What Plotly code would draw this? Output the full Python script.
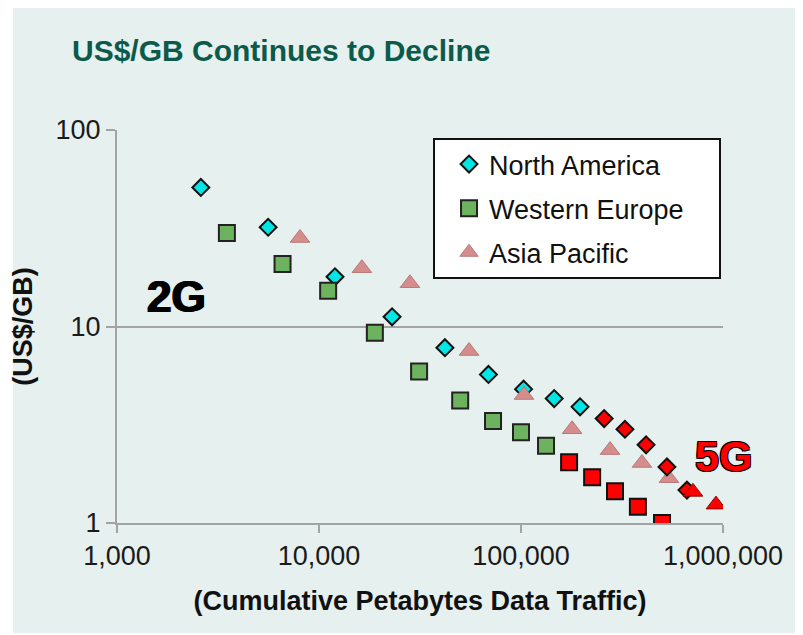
import plotly.graph_objects as go

# cumulative petabytes (x) vs US$/GB (y)
na_x = [2600, 5600, 12000, 23000, 42000, 69000, 103000, 146000, 196000]
na_y = [51, 32, 17.9, 11.2, 7.8, 5.7, 4.8, 4.3, 3.9]
na_5g_x = [258000, 327000, 416000, 528000, 663000]
na_5g_y = [3.4, 3.0, 2.5, 1.93, 1.47]

we_x = [3500, 6600, 11100, 18900, 31300, 50000, 72700, 100000, 133000]
we_y = [29.9, 20.8, 15.2, 9.3, 5.9, 4.2, 3.3, 2.9, 2.47]
we_5g_x = [173000, 225000, 292000, 379000, 499000]
we_5g_y = [2.04, 1.71, 1.45, 1.21, 1.0]

ap_x = [8050, 16300, 28200, 55300, 103500, 179000, 276000, 397000, 540000]
ap_y = [28.2, 19.8, 16.6, 7.5, 4.48, 3.0, 2.35, 2.02, 1.69]
ap_5g_x = [710000, 923000]
ap_5g_y = [1.44, 1.24]

x_ticks = [1000, 10000, 100000, 1000000]
x_tick_labels = ["1,000", "10,000", "100,000", "1,000,000"]
y_ticks = [1, 10, 100]
y_tick_labels = ["1", "10", "100"]

FONT = "Liberation Sans, Arial, sans-serif"
BG = "#e6f0ee"
GRID = "#a3a3a3"
outline = "-1px -1px 0 #000, 1px -1px 0 #000, -1px 1px 0 #000, 1px 1px 0 #000"
pad = "\u00a0" * 4  # widens the legend box a little, like the original

fig = go.Figure()

# regular series (shown in legend)
fig.add_trace(go.Scatter(
    x=na_x, y=na_y, mode="markers", name="North America", legendgroup="na",
    marker=dict(symbol="diamond", size=13, color="#00e6e6", line=dict(color="#111", width=2)),
))
fig.add_trace(go.Scatter(
    x=we_x, y=we_y, mode="markers", name="Western Europe" + pad, legendgroup="we",
    marker=dict(symbol="square", size=16, color="#6db35f", line=dict(color="#222", width=2)),
))
fig.add_trace(go.Scatter(
    x=ap_x, y=ap_y, mode="markers", name="Asia Pacific", legendgroup="ap",
    marker=dict(symbol="triangle-up", size=17, color="#d48c8c", line=dict(color="#b87a7a", width=1)),
))

# 5G portions in red
fig.add_trace(go.Scatter(
    x=na_5g_x, y=na_5g_y, mode="markers", showlegend=False,
    marker=dict(symbol="diamond", size=13, color="#ff0000", line=dict(color="#111", width=2)),
))
fig.add_trace(go.Scatter(
    x=we_5g_x, y=we_5g_y, mode="markers", showlegend=False,
    marker=dict(symbol="square", size=16, color="#ff0000", line=dict(color="#111", width=2)),
))
fig.add_trace(go.Scatter(
    x=ap_5g_x, y=ap_5g_y, mode="markers", showlegend=False,
    marker=dict(symbol="triangle-up", size=17, color="#ff0000", line=dict(color="#8b0000", width=1)),
))

fig.update_xaxes(
    type="log", range=[3, 6], automargin=False,
    tickvals=x_ticks, ticktext=x_tick_labels,
    showgrid=False, zeroline=False,
    showline=True, linecolor=GRID, linewidth=2,
    ticks="outside", ticklen=8, tickwidth=2, tickcolor=GRID,
    tickfont=dict(family=FONT, size=27, color="#1a1a1a"),
    title=dict(text="<b>(Cumulative Petabytes Data Traffic)</b>",
               font=dict(family=FONT, size=27, color="#111"), standoff=21),
)
fig.update_yaxes(
    type="log", range=[0, 2], automargin=False,
    tickvals=y_ticks, ticktext=y_tick_labels,
    showgrid=True, gridcolor=GRID, gridwidth=2, zeroline=False,
    showline=True, linecolor=GRID, linewidth=2,
    ticks="outside", ticklen=9, tickwidth=2, tickcolor=GRID,
    tickfont=dict(family=FONT, size=27, color="#1a1a1a"),
    title=dict(text="<b>(US$/GB)</b>",
               font=dict(family=FONT, size=27, color="#111"), standoff=16),
)

# generation labels
fig.add_annotation(
    x=3.297, y=1.155, xref="x", yref="y", text="<b>2G</b>", showarrow=False,
    font=dict(family=FONT, size=44, color="#000", shadow="1px 0 0 #000, -1px 0 0 #000"),
)
fig.add_annotation(
    x=6.0, y=0.341, xref="x", yref="y", text="<b>5G</b>", showarrow=False,
    font=dict(family=FONT, size=43, color="#ff0000", shadow=outline),
)

# light panel behind everything, white rim like the original slide
fig.add_shape(
    type="rect", xref="paper", yref="paper", layer="below",
    x0=-0.1716, x1=1.3, y0=-0.2799, y1=1.4,
    fillcolor=BG, line=dict(width=0),
)

fig.update_layout(
    width=803, height=635,
    margin=dict(l=109, r=88, t=122, b=120),
    paper_bgcolor="white", plot_bgcolor=BG,
    title=dict(text="<b>US$/GB Continues to Decline</b>",
               font=dict(family=FONT, size=30, color="#0b5a4b"),
               x=64 / 803, xanchor="left", y=1 - 42 / 635, yanchor="middle",
               automargin=False),
    legend=dict(
        x=0.5215, y=0.9796, xanchor="left", yanchor="top",
        bgcolor="white", bordercolor="#111", borderwidth=2,
        font=dict(family=FONT, size=27, color="#111"),
        traceorder="grouped", tracegroupgap=6, indentation=14,
    ),
)

fig.write_html("out.html")
